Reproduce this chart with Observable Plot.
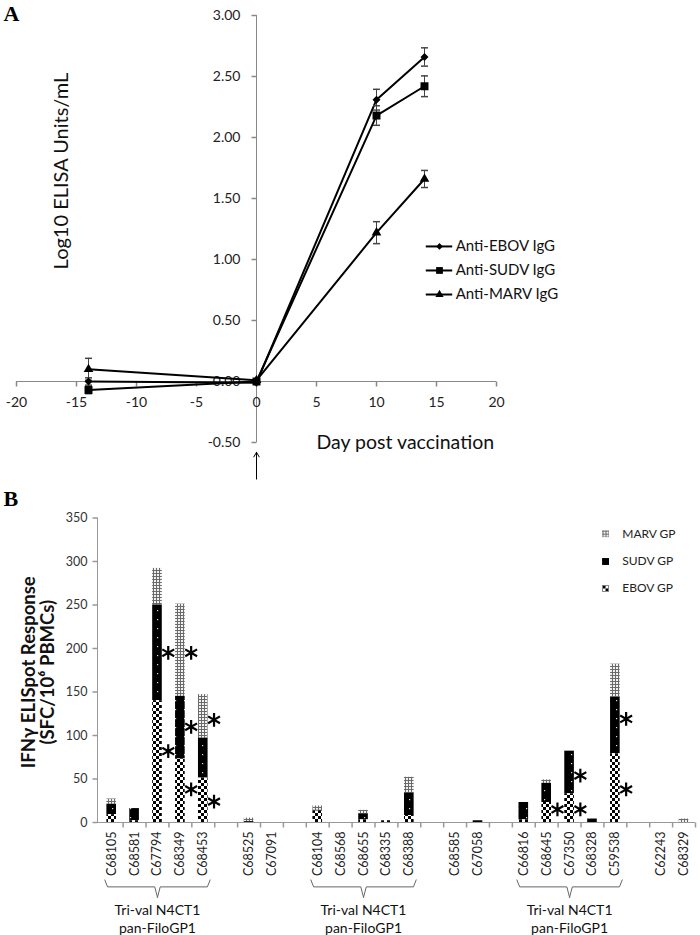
<!DOCTYPE html>
<html><head><meta charset="utf-8">
<script src="https://cdn.jsdelivr.net/npm/d3@7"></script>
<script src="https://cdn.jsdelivr.net/npm/@observablehq/plot@0.6"></script>
<style>
body{margin:0;background:#fff;width:700px;}
#a svg,#b svg{display:block;}
</style></head><body><div id="a"></div><div id="b"></div>
<script>
// ---------- Panel A data ----------
const days = [-14, 0, 10, 14];
const seriesA = ["Anti-EBOV IgG", "Anti-SUDV IgG", "Anti-MARV IgG"];
const ebovIgG = [0.00, -0.01, 2.31, 2.66];
const ebovErr = [0.03, 0.01, 0.085, 0.075];
const sudvIgG = [-0.07, 0.00, 2.18, 2.42];
const sudvErr = [0.03, 0.01, 0.08, 0.085];
const marvIgG = [0.10, 0.01, 1.22, 1.66];
const marvErr = [0.09, 0.01, 0.09, 0.07];
const xTicksA = [-20, -15, -10, -5, 0, 5, 10, 15, 20];
const yTicksA = [-0.5, 0, 0.5, 1, 1.5, 2, 2.5, 3];

// ---------- Panel B data ----------
const animals = ["C68105","C68581","C67794","C68349","C68453","","C68525","C67091","","C68104","C68568","C68655","C68335","C68388","","C68585","C67058","","C66816","C68645","C67350","C68328","C59538","","C62243","C68329"];
const antigens = ["MARV GP", "SUDV GP", "EBOV GP"];
const ebovGP = [9,2,140,73,51,0,0,0,0,13,0,3,2,8,0,0,0,0,3,23,33,0,79,0,0,0];
const sudvGP = [12,14,110,72,46,0,1,0,0,1,0,7,0,26,0,0,2,0,20,22,49,4,65,0,0,0];
const marvGP = [6,0,42,106,50,0,4,0,0,5,0,4,0,18,0,0,0,0,0,4,0,0,38,0,0,4];
const sigAnimal = ["C67794","C67794","C68349","C68349","C68349","C68453","C68453","C68645","C67350","C67350","C59538","C59538"];
const sigLevel  = [195, 82, 195, 110, 38, 118, 24, 15, 54, 15, 119, 38];
const groupFirst = ["C68105", "C68104", "C66816"];
const groupLast  = ["C68453", "C68388", "C59538"];
const groupLabel = "Tri-val N4CT1\npan-FiloGP1";
const yTicksB = [0, 50, 100, 150, 200, 250, 300, 350];

// ---------- helpers ----------
const FONT = "Lato, 'Open Sans', sans-serif";
const tickLeft = {draw(c){c.moveTo(0,0);c.lineTo(-5,0);}};
const tickDown = {draw(c){c.moveTo(0,0);c.lineTo(0,5);}};
const cap = {draw(c){c.moveTo(-3.5,0);c.lineTo(3.5,0);}};

// ---------- Panel A ----------
const valsA = [ebovIgG, sudvIgG, marvIgG];
const errsA = [ebovErr, sudvErr, marvErr];
const rowsA = seriesA.flatMap((s, k) => days.map((d, i) => ({series: s, day: d, v: valsA[k][i], e: errsA[k][i]})));
const symA = ["diamond2", "square", "triangle"];
const rA = [3.6, 4.5, 3.6];
const legYA = [1.107, 0.91, 0.713];

const marksA = [
  Plot.ruleX([0], {y1: -0.5, y2: 3, stroke: "#888"}),
  Plot.ruleY([0], {x1: -20, x2: 20, stroke: "#888"}),
  Plot.dot(yTicksA, {x: 0, y: d => d, symbol: tickLeft, stroke: "#888", fill: "none"}),
  Plot.dot(xTicksA, {x: d => d, y: 0, symbol: tickDown, stroke: "#888", fill: "none"}),
  Plot.text(yTicksA, {x: 0, y: d => d, text: d => d.toFixed(2), textAnchor: "end", dx: -16, fontSize: 14, fill: "#222"}),
  Plot.text(xTicksA, {x: d => d, y: 0, text: d => String(d), dy: 21, fontSize: 14, fill: "#222"}),
  Plot.line(rowsA, {x: "day", y: "v", z: "series", stroke: "black", strokeWidth: 2}),
  Plot.ruleX(rowsA, {x: "day", y1: d => d.v - d.e, y2: d => d.v + d.e, stroke: "#444"}),
  Plot.dot(rowsA, {x: "day", y: d => d.v + d.e, symbol: cap, stroke: "#444", fill: "none"}),
  Plot.dot(rowsA, {x: "day", y: d => d.v - d.e, symbol: cap, stroke: "#444", fill: "none"}),
  ...seriesA.map((s, k) => Plot.dot(rowsA.filter(d => d.series === s), {x: "day", y: "v", symbol: symA[k], r: rA[k], fill: "black"})),
  // legend
  Plot.ruleY(seriesA, {y: (d, i) => legYA[i], x1: 14.15, x2: 16.35, stroke: "black", strokeWidth: 2}),
  ...seriesA.map((s, k) => Plot.dot([s], {x: 15.25, y: legYA[k], symbol: symA[k], r: rA[k] * 0.85, fill: "black"})),
  Plot.text(seriesA, {x: 16.6, y: (d, i) => legYA[i], text: d => d, textAnchor: "start", fontSize: 15, fill: "#111"}),
  Plot.text(["Day post vaccination"], {x: 12.4, y: -0.5, text: d => d, fontSize: 19.5, fill: "#111"}),
  Plot.arrow([0], {x1: 0, x2: 0, y1: -0.8, y2: -0.58, stroke: "black", strokeWidth: 1, headLength: 8}),
  Plot.text(["Log10 ELISA Units/mL"], {frameAnchor: "left", textAnchor: "middle", rotate: -90, dx: 45, dy: -58, text: d => d, fontSize: 20, fill: "#111"}),
  Plot.text(["A"], {frameAnchor: "top-left", dx: -13, dy: -10, text: d => d, textAnchor: "start", lineAnchor: "top", fontFamily: "'Liberation Serif', serif", fontWeight: "bold", fontSize: 22, fill: "black"})
];

const plotA = Plot.plot({
  width: 700, height: 480,
  marginLeft: 16, marginRight: 204, marginTop: 15, marginBottom: 38,
  x: {domain: [-20, 20], axis: null},
  y: {domain: [-0.5, 3], axis: null},
  style: {fontFamily: FONT, background: "white", overflow: "visible"},
  marks: marksA
});
document.getElementById("a").append(plotA);

// ---------- Panel B ----------
const xDomainB = [-0.62, 25.5];
const segs = [];
animals.forEach((id, i) => {
  let base = 0;
  [["EBOV GP", ebovGP[i]], ["SUDV GP", sudvGP[i]], ["MARV GP", marvGP[i]]].forEach(([a, v]) => {
    if (v > 0) segs.push({slot: i, antigen: a, y1: base, y2: base + v});
    base += v;
  });
});
const patternOf = {"EBOV GP": "url(#pEbov)", "SUDV GP": "url(#pSudv)", "MARV GP": "url(#pMarv)"};
const labelsB = animals.map((id, i) => ({id, slot: i})).filter(d => d.id !== "");
const sig = sigAnimal.map((a, i) => ({slot: animals.indexOf(a), v: sigLevel[i]}));
const groups = groupFirst.map((f, i) => ({a: animals.indexOf(f), b: animals.indexOf(groupLast[i])}));
const bracketPts = groups.flatMap((g, gi) => {
  const x0 = g.a - 0.3, x1 = g.b + 0.3, xc = (g.a + g.b) / 2;
  return [
    {g: gi + "L", x: x0, y: -66}, {g: gi + "L", x: x0 + 0.12, y: -74}, {g: gi + "L", x: xc - 0.12, y: -74}, {g: gi + "L", x: xc, y: -86},
    {g: gi + "R", x: x1, y: -66}, {g: gi + "R", x: x1 - 0.12, y: -74}, {g: gi + "R", x: xc + 0.12, y: -74}, {g: gi + "R", x: xc, y: -86}
  ];
});
const legYB = [332, 300, 269];
const boundaries = d3.range(animals.length).map(i => i + 0.5);

const marksB = [
  Plot.ruleX([xDomainB[0]], {y1: 0, y2: 350, stroke: "#999"}),
  Plot.ruleY([0], {stroke: "#999"}),
  Plot.dot(yTicksB, {x: xDomainB[0], y: d => d, symbol: tickLeft, stroke: "#999", fill: "none"}),
  Plot.dot(boundaries, {x: d => d, y: 0, symbol: tickDown, stroke: "#999", fill: "none"}),
  Plot.text(yTicksB, {x: xDomainB[0], y: d => d, text: d => String(d), textAnchor: "end", dx: -10, fontSize: 12.5, fill: "#333"}),
  ...antigens.map(a => Plot.rect(segs.filter(d => d.antigen === a), {x1: d => d.slot - 0.21, x2: d => d.slot + 0.21, y1: "y1", y2: "y2", fill: patternOf[a]})),
  Plot.dot(sig, {x: d => d.slot + 0.47, y: "v", symbol: "asterisk", r: 6.5, stroke: "black", strokeWidth: 2.2}),
  Plot.text(labelsB, {x: "slot", y: 0, text: "id", rotate: -90, textAnchor: "end", dy: 9, fontSize: 12.5, fill: "#222"}),
  Plot.line(bracketPts, {x: "x", y: "y", z: "g", stroke: "#666", strokeWidth: 1}),
  Plot.text(groups, {x: d => (d.a + d.b) / 2, y: -110, text: () => groupLabel, fontSize: 14, lineHeight: 1.25, fill: "#111"}),
  // legend
  ...antigens.map((a, k) => Plot.dot([a], {x: 21.57, y: legYB[k], symbol: "square", r: 3.9, fill: patternOf[a]})),
  Plot.text(antigens, {x: 22.3, y: (d, i) => legYB[i], text: d => d, textAnchor: "start", fontSize: 12, fill: "#222"}),
  Plot.text(["IFNγ ELISpot Response\n(SFC/10⁶ PBMCs)"], {frameAnchor: "left", textAnchor: "middle", rotate: -90, dx: -59.5, dy: 2, text: d => d, fontSize: 18.5, fontWeight: "bold", lineHeight: 1.05, fill: "#111"}),
  Plot.text(["B"], {frameAnchor: "top-left", dx: -94, dy: -27.5, text: d => d, textAnchor: "start", lineAnchor: "top", fontFamily: "'Liberation Serif', serif", fontWeight: "bold", fontSize: 22, fill: "black"})
];

const plotB = Plot.plot({
  width: 700, height: 455,
  marginLeft: 97, marginRight: 5, marginTop: 37.5, marginBottom: 113,
  x: {domain: xDomainB, axis: null},
  y: {domain: [0, 350], axis: null},
  style: {fontFamily: FONT, background: "white", overflow: "visible"},
  marks: marksB
});
const defs = document.createElementNS("http://www.w3.org/2000/svg", "defs");
defs.innerHTML = `
<pattern id="pEbov" patternUnits="userSpaceOnUse" width="6" height="6">
  <rect width="6" height="6" fill="#fff"/><rect width="3" height="3" fill="#000"/><rect x="3" y="3" width="3" height="3" fill="#000"/>
</pattern>
<pattern id="pSudv" patternUnits="userSpaceOnUse" width="9" height="9">
  <rect width="9" height="9" fill="#000"/><rect x="4" y="4" width="1.2" height="1.2" fill="#ddd"/>
</pattern>
<pattern id="pMarv" patternUnits="userSpaceOnUse" width="3" height="3">
  <rect width="3" height="3" fill="#f2f2f2"/><rect width="3" height="1" fill="#6a6a6a"/><rect width="1" height="3" fill="#6a6a6a"/>
</pattern>`;
plotB.prepend(defs);
document.getElementById("b").append(plotB);
</script>
</body></html>
